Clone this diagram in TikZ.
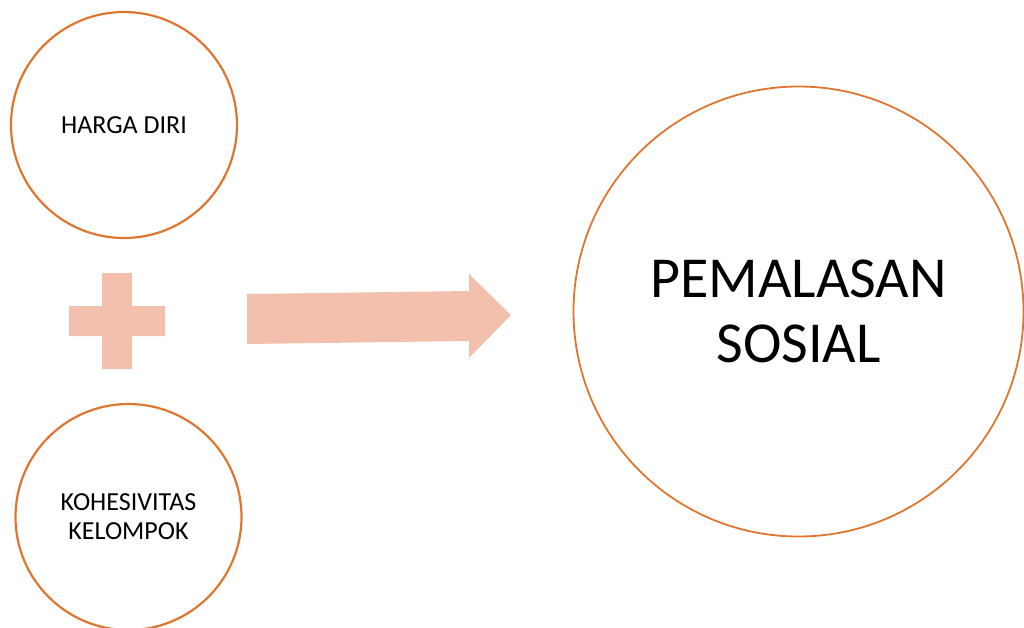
\documentclass[tikz,border=0pt]{standalone}
\usepackage{fontspec}
\setmainfont{Carlito}
\definecolor{rimorange}{HTML}{DF7630}
\definecolor{lightsalmon}{HTML}{F4C0AE}
\usetikzlibrary{positioning}
\tikzstyle{bubble}=[draw=rimorange,circle,line width=2.2pt,inner sep=0pt,
  minimum size=226pt,align=center,font=\fontsize{26}{29}\selectfont]
\tikzstyle{bigbubble}=[bubble,line width=1.8pt,minimum size=450pt,
  font=\fontsize{58}{65}\selectfont]

\begin{document}
\begin{tikzpicture}[x=1pt, y=-1pt, node distance=392pt, on grid]
  \tikzstyle{block}=[fill=lightsalmon]
  \useasboundingbox (0,0) rectangle (1024,627);

  \node[bubble] (harga) at (124,125) {HARGA DIRI};
  \node[bubble, below=of harga, xshift=4.5pt] (kohesi) {KOHESIVITAS\\KELOMPOK};
  \node[bigbubble] (malas) at (798.5,311.5) {PEMALASAN\\SOSIAL};

  % plus sign
  \fill[block] (69,306) rectangle (165,336) (102,273) rectangle (132,369);
  % block arrow
  \fill[block] (247,294) -- (469,291) -- (469,274) -- (511,315)
    -- (469,358) -- (469,341) -- (247,344) -- cycle;
\end{tikzpicture}
\end{document}
